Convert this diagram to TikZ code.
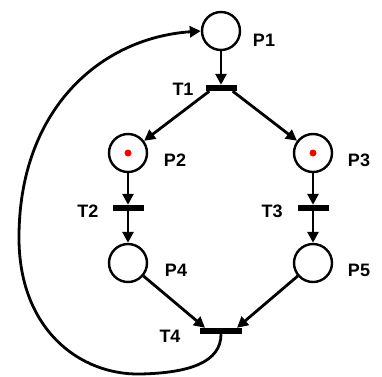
\documentclass[tikz,border=0pt]{standalone}
\usepackage{fontspec}
\setmainfont{Liberation Sans}
\usetikzlibrary{arrows.meta}
\begin{document}
\begin{tikzpicture}[x=1pt,y=-1pt,
  place/.style={circle,draw,line width=2.4pt,minimum size=38pt,inner sep=0pt},
  trans/.style={rectangle,fill=black,minimum width=31pt,minimum height=6pt,inner sep=0pt},
  lbl/.style={font=\fontsize{18}{20}\selectfont\bfseries,inner sep=0pt},
  arc/.style={line width=2.8pt,-{Triangle[length=11pt,width=11pt]}},
  tok/.style={circle,fill=red,minimum size=7pt,inner sep=0pt}]
\useasboundingbox (0,0) rectangle (382,376);
\node[place] (p1) at (221,31) {};
\node[place] (p2) at (128,153) {};
\node[place] (p3) at (313,153) {};
\node[place] (p4) at (128,263) {};
\node[place] (p5) at (313,263) {};
\node[tok] (k2) at (128,153) {};
\node[tok] (k3) at (313,153) {};
\node[trans] (t1) at (221,88) {};
\node[trans] (t2) at (128,208) {};
\node[trans] (t3) at (313,208) {};
\node[trans,minimum width=42pt] (t4) at (221,331) {};
\node[lbl] (l1) at (264,40) {P1};
\node[lbl] (l2) at (175,160) {P2};
\node[lbl] (l3) at (359,160) {P3};
\node[lbl] (l4) at (176,270) {P4};
\node[lbl] (l5) at (359,270) {P5};
\node[lbl] (lt1) at (183,89) {T1};
\node[lbl] (lt2) at (88,211) {T2};
\node[lbl] (lt3) at (272,211) {T3};
\node[lbl] (lt4) at (170,336) {T4};
\draw[arc] (p1) -- (t1.north);
\draw[arc] (t1.south west) ++(4,0) coordinate (a1) (a1) -- (p2);
\draw[arc] (t1.south east) ++(-4,0) coordinate (a2) (a2) -- (p3);
\draw[arc] (p2) -- (t2.north);
\draw[arc] (t2) -- (p4);
\draw[arc] (p3) -- (t3.north);
\draw[arc] (t3) -- (p5);
\draw[arc] (p4) -- ([xshift=-16pt]t4.north);
\draw[arc] (p5) -- ([xshift=16pt]t4.north);
\draw[arc] (t4.south) .. controls (221,362) and (190,373) .. (140,374)
  .. controls (80,375) and (20,330) .. (19,240)
  .. controls (18,110) and (100,38) .. (p1.west);
\end{tikzpicture}
\end{document}
